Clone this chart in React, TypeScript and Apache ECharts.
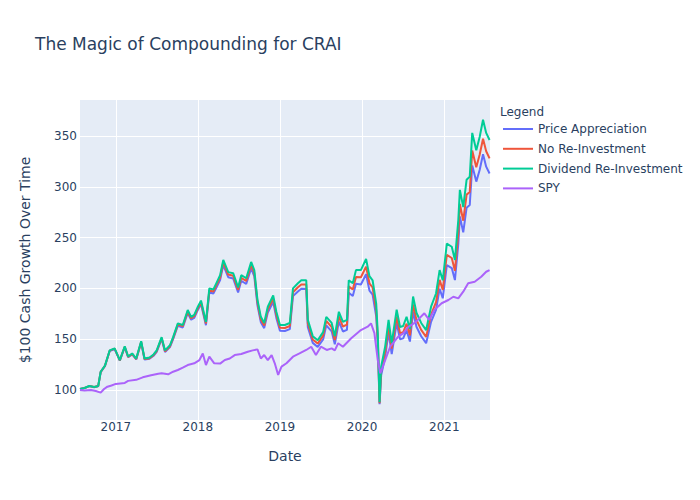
import React, { useEffect, useRef } from "react";
import * as echarts from "echarts";

const craiDates = [
  "2016-07-26", "2016-08-15", "2016-09-05", "2016-09-27", "2016-10-15", "2016-10-26", "2016-11-14", "2016-12-05", "2016-12-27",
  "2017-01-19", "2017-02-10", "2017-02-25", "2017-03-15", "2017-04-02", "2017-04-24", "2017-05-09", "2017-05-31", "2017-06-18",
  "2017-07-02", "2017-07-24", "2017-08-08", "2017-08-30", "2017-09-13", "2017-10-04", "2017-10-26", "2017-11-17", "2017-12-02",
  "2017-12-16", "2018-01-01", "2018-01-15", "2018-02-06", "2018-02-21", "2018-03-11", "2018-03-24", "2018-04-10", "2018-04-24",
  "2018-05-16", "2018-06-07", "2018-06-29", "2018-07-13", "2018-08-04", "2018-08-26", "2018-09-09", "2018-09-23", "2018-10-08",
  "2018-10-23", "2018-11-08", "2018-12-02", "2018-12-16", "2019-01-01", "2019-01-23", "2019-02-14", "2019-02-28", "2019-03-22",
  "2019-04-06", "2019-04-28", "2019-05-05", "2019-05-27", "2019-06-18", "2019-07-12", "2019-07-26", "2019-08-19", "2019-09-02",
  "2019-09-20", "2019-10-08", "2019-10-26", "2019-11-03", "2019-11-21", "2019-12-05", "2019-12-27", "2020-01-19", "2020-02-03",
  "2020-02-17", "2020-03-04", "2020-03-11", "2020-03-19", "2020-03-26", "2020-04-13", "2020-04-28", "2020-05-12", "2020-06-03",
  "2020-06-18", "2020-07-02", "2020-07-17", "2020-08-01", "2020-08-15", "2020-08-30", "2020-09-20", "2020-10-12", "2020-11-03",
  "2020-11-25", "2020-12-11", "2020-12-25", "2021-01-12", "2021-02-03", "2021-02-17", "2021-03-04", "2021-03-11", "2021-03-26",
  "2021-04-10", "2021-04-24", "2021-05-05", "2021-05-23", "2021-06-07", "2021-06-22", "2021-07-06", "2021-07-21",
];

const dividendReinvestment = [
  101, 102, 104, 103, 104, 118, 124, 139, 141,
  129.5, 143, 133, 136, 131, 148, 131, 132, 135,
  139, 152, 139, 144, 152, 165.6, 164, 178.7, 172,
  174, 182, 188, 167, 200, 199, 205, 213, 228,
  216, 215, 201, 213, 210, 226, 218, 189, 172,
  166, 182, 193, 177, 164, 164, 166, 200, 205,
  208, 208, 169, 153, 149, 157, 172, 166, 153,
  177, 167, 169, 208, 205, 218, 218, 229, 212,
  208, 185, 156, 88, 123, 143, 169, 146, 179,
  162, 163, 172, 160, 192, 176, 166, 159, 182,
  195, 218, 208, 244, 241, 228, 267, 297, 280,
  307, 310, 353, 336, 349, 366, 353, 346,
];

const noReinvestment = [
  101, 102.0, 103.9, 102.9, 103.9, 117.9, 123.8, 138.7, 140.7,
  129.1, 142.6, 132.6, 135.6, 130.5, 147.4, 130.5, 131.3, 134.3,
  138.3, 151.2, 138.2, 143.1, 151.1, 164.4, 162.9, 177.3, 170.6,
  172.6, 180.5, 186.3, 165.5, 198.0, 197.0, 203.0, 210.7, 225.5,
  213.6, 212.4, 198.6, 210.4, 207.3, 223.1, 215.0, 186.4, 169.4,
  163.5, 179.1, 189.9, 174.0, 161.2, 161.0, 163.0, 196.2, 201.1,
  203.8, 203.8, 165.6, 149.8, 145.7, 153.5, 168.0, 161.9, 149.2,
  172.4, 162.5, 164.3, 202.0, 198.9, 211.2, 211.0, 221.4, 205.0,
  200.9, 178.7, 150.7, 87, 118.8, 138.0, 162.9, 140.7, 172.4,
  156.0, 156.8, 165.3, 153.8, 184.3, 169.0, 159.2, 152.3, 174.2,
  186.4, 208.4, 198.6, 233.0, 229.9, 217.3, 254.5, 283.0, 266.6,
  292.3, 294.8, 335.7, 319.2, 331.6, 347.3, 335.0, 328.0,
];

const priceAppreciation = [
  101, 101.9, 103.9, 102.8, 103.8, 117.6, 123.6, 138.4, 140.3,
  128.9, 142.1, 132.2, 135.0, 130.1, 146.8, 130.0, 130.8, 133.7,
  137.6, 150.3, 137.3, 142.3, 150.0, 163.3, 161.5, 175.8, 169.2,
  171.0, 178.8, 184.6, 163.8, 196.0, 195.0, 200.7, 208.3, 223.0,
  211.0, 209.8, 196.0, 207.5, 204.3, 219.7, 211.7, 183.3, 166.8,
  160.9, 176.2, 186.6, 171.0, 158.3, 158.1, 159.9, 192.4, 197.0,
  199.7, 199.5, 161.9, 146.4, 142.4, 149.8, 163.7, 157.7, 145.0,
  167.4, 157.6, 159.2, 195.7, 192.5, 204.5, 203.8, 213.9, 197.8,
  193.9, 172.4, 145.2, 86, 114.4, 132.8, 156.8, 135.3, 165.8,
  150.0, 150.8, 158.9, 147.7, 177.2, 162.3, 152.9, 146.1, 167.1,
  178.8, 199.7, 190.3, 223.0, 220.0, 208.2, 243.5, 270.9, 255.1,
  279.4, 282.1, 320.9, 305.1, 316.5, 332.0, 319.8, 313.1,
];

const spyDates = [
  "2016-07-26", "2016-08-15", "2016-09-13", "2016-10-04", "2016-10-26", "2016-11-10", "2016-11-25", "2016-12-13", "2017-01-01",
  "2017-02-10", "2017-02-25", "2017-04-02", "2017-05-01", "2017-06-07", "2017-07-09", "2017-07-24", "2017-08-22", "2017-09-13",
  "2017-10-04", "2017-10-26", "2017-11-17", "2017-12-16", "2018-01-08", "2018-01-23", "2018-02-06", "2018-02-21", "2018-03-15",
  "2018-04-10", "2018-05-01", "2018-05-23", "2018-06-14", "2018-07-13", "2018-08-11", "2018-09-02", "2018-09-23", "2018-10-08",
  "2018-10-23", "2018-11-08", "2018-11-25", "2018-12-09", "2018-12-24", "2019-01-08", "2019-01-30", "2019-02-28", "2019-03-29",
  "2019-04-28", "2019-05-20", "2019-06-10", "2019-07-02", "2019-07-28", "2019-08-19", "2019-09-02", "2019-09-17", "2019-10-08",
  "2019-11-14", "2019-12-27", "2020-01-26", "2020-02-10", "2020-02-25", "2020-03-11", "2020-03-22", "2020-04-13", "2020-05-05",
  "2020-06-10", "2020-07-02", "2020-07-24", "2020-08-15", "2020-09-05", "2020-10-04", "2020-10-26", "2020-11-17", "2020-12-20",
  "2021-01-19", "2021-02-10", "2021-03-04", "2021-03-26", "2021-04-17", "2021-05-16", "2021-06-14", "2021-07-06", "2021-07-21",
];

const spyValues = [
  100, 99.5, 100, 99, 97.4, 101, 103.3, 104.5, 106,
  107, 109, 110, 112.5, 114.5, 116, 116.4, 115.5, 118,
  119.7, 122, 124.6, 126.3, 129.5, 136, 124.6, 132.8, 126.3,
  126, 129.5, 131, 134.4, 135.4, 137.7, 139, 140, 131,
  134.4, 129.5, 134.4, 126.3, 114.8, 123, 126.3, 132.8, 136,
  139.4, 142.6, 134.4, 142.6, 139.4, 141, 139, 146, 142.6,
  151, 159, 162.3, 165.6, 156, 129.5, 116.4, 129.5, 142.6,
  152.5, 155.8, 162, 165, 169, 175.5, 169, 178.7, 185.4,
  188.6, 191.8, 190.2, 196.8, 205, 206.6, 211.5, 216.4, 218,
];

const seriesNames = ["Price Appreciation", "No Re-Investment", "Dividend Re-Investment", "SPY"];
const seriesColors = ["#636efa", "#EF553B", "#00cc96", "#ab63fa"];

const xMin = "2016-07-26";
const xMax = "2021-07-23";
const yMin = 70.5;
const yMax = 385.4;

const FONT = "DejaVu Sans";
const TEXT_COLOR = "#2a3f5f";

export default function App() {
  const ref = useRef<HTMLDivElement>(null);

  useEffect(() => {
    if (!ref.current) return;
    const chart = echarts.init(ref.current, undefined, { renderer: "svg" });

    const pair = (dates: string[], vals: number[]) => dates.map((d, i) => [d, vals[i]]);
    const seriesData = [
      pair(craiDates, priceAppreciation),
      pair(craiDates, noReinvestment),
      pair(craiDates, dividendReinvestment),
      pair(spyDates, spyValues),
    ];

    const option: any = {
      animation: false,
      backgroundColor: "#ffffff",
      textStyle: { fontFamily: FONT, color: TEXT_COLOR },
      title: {
        text: "The Magic of Compounding for CRAI",
        left: 35,
        top: 35,
        padding: 0,
        textStyle: { fontSize: 17, fontWeight: "normal", color: TEXT_COLOR, fontFamily: FONT },
      },
      graphic: [
        {
          type: "text",
          left: 500,
          top: 106,
          style: { text: "Legend", fontSize: 12, fill: TEXT_COLOR, fontFamily: FONT },
        },
      ],
      legend: {
        orient: "vertical",
        left: 503,
        top: 123,
        padding: 0,
        itemWidth: 30,
        itemHeight: 2,
        itemGap: 7.8,
        icon: "rect",
        data: seriesNames,
        textStyle: { fontSize: 12, color: TEXT_COLOR, fontFamily: FONT },
      },
      grid: {
        left: 80,
        right: 210,
        top: 100,
        bottom: 80,
        show: true,
        backgroundColor: "#E5ECF6",
        borderWidth: 0,
        containLabel: false,
      },
      xAxis: {
        type: "time",
        min: xMin,
        max: xMax,
        minInterval: 365 * 24 * 3600 * 1000,
        name: "Date",
        nameLocation: "middle",
        nameGap: 29,
        nameTextStyle: { fontSize: 14, color: TEXT_COLOR, fontFamily: FONT },
        axisLine: { show: false },
        axisTick: { show: false },
        axisLabel: {
          formatter: "{yyyy}",
          color: TEXT_COLOR,
          fontSize: 12,
          fontFamily: FONT,
          margin: 1,
          showMinLabel: false,
          showMaxLabel: false,
        },
        splitLine: { show: true, showMinLine: false, showMaxLine: false, lineStyle: { color: "#ffffff", width: 1 } },
      },
      yAxis: {
        type: "value",
        min: yMin,
        max: yMax,
        splitNumber: 5,
        name: "$100 Cash Growth Over Time",
        nameLocation: "middle",
        nameGap: 48,
        nameTextStyle: { fontSize: 14, color: TEXT_COLOR, fontFamily: FONT },
        axisLine: { show: false },
        axisTick: { show: false },
        axisLabel: {
          color: TEXT_COLOR,
          fontSize: 12,
          fontFamily: FONT,
          margin: 3,
          showMinLabel: false,
          showMaxLabel: false,
        },
        splitLine: { show: true, showMinLine: false, showMaxLine: false, lineStyle: { color: "#ffffff", width: 1 } },
      },
      series: seriesNames.map((name, i) => ({
        name,
        type: "line",
        data: seriesData[i],
        showSymbol: false,
        symbol: "none",
        color: seriesColors[i],
        lineStyle: { width: 2, color: seriesColors[i] },
        emphasis: { disabled: true },
      })),
    };

    chart.setOption(option);
    return () => chart.dispose();
  }, []);

  return (
    <div
      ref={ref}
      style={{ position: "fixed", left: 0, top: 0, width: 700, height: 500, background: "#fff" }}
    />
  );
}
